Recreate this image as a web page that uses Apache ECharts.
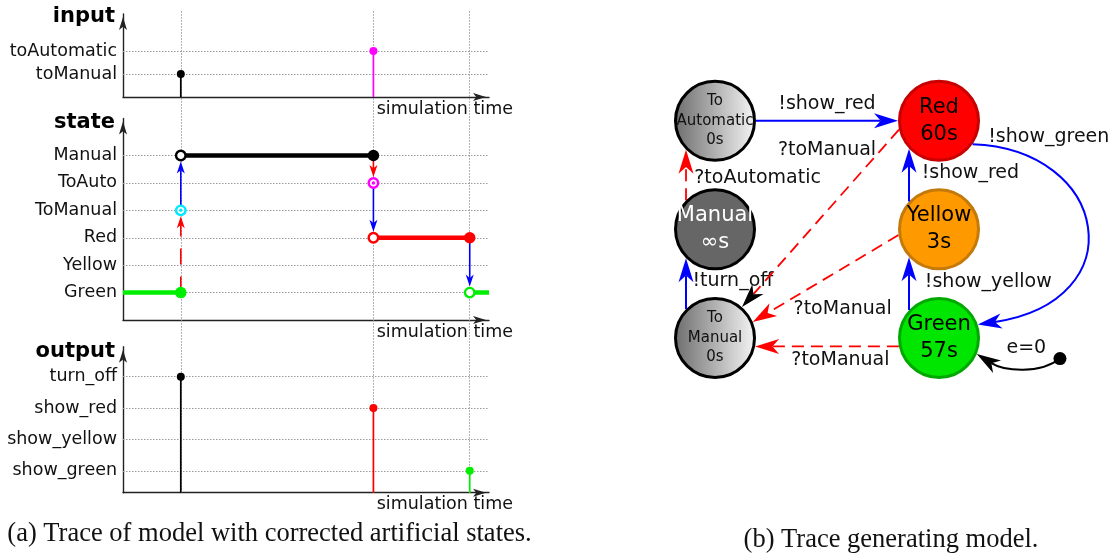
<!DOCTYPE html>
<html>
<head>
<meta charset="utf-8">
<title>Trace and trace generating model</title>
<script src="https://cdn.jsdelivr.net/npm/echarts@6.0.0/dist/echarts.min.js"></script>
<style>
  html, body { margin: 0; padding: 0; background: #fff; }
  #chart { width: 1117px; height: 560px; }
</style>
</head>
<body>
<div id="chart"></div>
<script>
// ---------- (a) trace, x = simulation time ----------
const timeMax = 19
const eventTimes = [3, 13, 18]

const inputLevels = ['toManual', 'toAutomatic']
const inputTimes = [3, 13]
const inputValues = ['toManual', 'toAutomatic']

const stateLevels = ['Green', 'Yellow', 'Red', 'ToManual', 'ToAuto', 'Manual']
const segState = ['Green', 'Manual', 'Red', 'Green']
const segStart = [0, 3, 13, 18]
const segEnd = [3, 13, 18, 19]
const transTime = [3, 3, 13, 13, 18]
const transFrom = ['Green', 'ToManual', 'Manual', 'ToAuto', 'Red']
const transTo = ['ToManual', 'Manual', 'ToAuto', 'Red', 'Green']
const transEvent = ['?toManual', '!turn_off', '?toAutomatic', '!show_red', '!show_green']

const outputLevels = ['show_green', 'show_yellow', 'show_red', 'turn_off']
const outputTimes = [3, 13, 18]
const outputValues = ['turn_off', 'show_red', 'show_green']

// ---------- (b) state machine, layout in columns / rows ----------
const nodeNames = ['ToAutomatic', 'Red', 'Manual', 'Yellow', 'ToManual', 'Green']
const nodeText = ['To\nAutomatic\n0s', 'Red\n60s', 'Manual\n∞s', 'Yellow\n3s', 'To\nManual\n0s', 'Green\n57s']
const nodeCol = [0, 1, 0, 1, 0, 1]
const nodeRow = [0, 0, 1, 1, 2, 2]
const initCol = [1.54]
const initRow = [2.19]

const edgeFrom = ['ToAutomatic', 'Red', 'Yellow', 'Green', 'Manual', 'ToManual', 'Red', 'Yellow', 'Green', 'init']
const edgeTo = ['Red', 'Green', 'Red', 'Yellow', 'ToAutomatic', 'Manual', 'ToManual', 'ToManual', 'ToManual', 'Green']
const edgeLabel = ['!show_red', '!show_green', '!show_red', '!show_yellow', '?toAutomatic', '!turn_off', '?toManual', '?toManual', '?toManual', 'e=0']
const edgeLabelCol = [0.5, 1.49, 1.14, 1.22, 0.19, 0.08, 0.5, 0.57, 0.56, 1.39]
const edgeLabelRow = [-0.155, 0.15, 0.48, 1.49, 0.53, 1.48, 0.27, 1.73, 2.2, 2.09]

// ---------- styles ----------
const FONT = 'DejaVu Sans'
const GRID_L = 123, GRID_R = 1117 - 489
const colorOf = {
  toManual: '#000', toAutomatic: '#ff00ff',
  Green: '#00ee00', Yellow: '#ffa500', Red: '#ff0000', ToManual: '#00e8ff', ToAuto: '#ff00ff', Manual: '#000',
  show_green: '#00ee00', show_yellow: '#ffa500', show_red: '#ff0000', turn_off: '#000'
}
const axisLineStyle = { color: '#222', width: 1.4 }
const dotted = { color: '#9a9a9a', type: [1.5, 1.5], width: 1 }

const panels = [
  { title: 'input', top: 14, bottom: 463, min: 0, max: 3.61, gap: -3, labels: inputLevels },
  { title: 'state', top: 118.5, bottom: 240, min: 0, max: 7.35, gap: -4.5, labels: stateLevels },
  { title: 'output', top: 346.8, bottom: 67.3, min: 0.3, max: 4.955, gap: -5, labels: outputLevels }
]

// ---------- helpers ----------
function arrowParts(start, cp1, cp2, tip, color, headColor, width, dash, L, W) {
  const from = cp2 || start
  let ux = tip[0] - from[0], uy = tip[1] - from[1]
  const len = Math.hypot(ux, uy) || 1
  ux /= len; uy /= len
  const nx = -uy, ny = ux
  const notch = [tip[0] - ux * L * 0.72, tip[1] - uy * L * 0.72]
  const back = [tip[0] - ux * L, tip[1] - uy * L]
  const style = { stroke: color, lineWidth: width, fill: 'none' }
  if (dash) style.lineDash = dash
  const line = cp1
    ? { type: 'bezierCurve', shape: { x1: start[0], y1: start[1], cpx1: cp1[0], cpy1: cp1[1], cpx2: cp2[0], cpy2: cp2[1], x2: notch[0], y2: notch[1] }, style }
    : { type: 'line', shape: { x1: start[0], y1: start[1], x2: notch[0], y2: notch[1] }, style }
  const head = {
    type: 'polygon',
    shape: { points: [tip, [back[0] + nx * W / 2, back[1] + ny * W / 2], notch, [back[0] - nx * W / 2, back[1] - ny * W / 2]] },
    style: { fill: headColor }
  }
  return [line, head]
}
function kindOf(ev) {
  if (ev[0] === '?') return { color: '#ff0000', dash: true, width: 1.8 }
  if (ev[0] === '!') return { color: '#0000ff', dash: false, width: 2 }
  return { color: '#000', dash: false, width: 2 }
}
const stateLvl = s => stateLevels.indexOf(s) + 1

// ---------- grids and axes ----------
const grid = panels.map(p => ({ left: GRID_L, right: GRID_R, top: p.top, bottom: p.bottom }))
grid.push({ left: GRID_L, right: GRID_R, top: 10, bottom: 67.3 })          // vertical event lines
grid.push({ left: 603, right: 10, top: 55.6, bottom: 156.9 })              // state machine

const xAxis = panels.map((p, i) => ({
  type: 'value', gridIndex: i, min: 0, max: timeMax,
  axisLine: { show: true, onZero: false, symbol: ['none', 'arrow'], symbolSize: [6, 13], symbolOffset: [0, -3], lineStyle: axisLineStyle },
  axisTick: { show: false }, axisLabel: { show: false }, splitLine: { show: false },
  name: 'simulation time', nameLocation: 'end', nameGap: 24,
  nameTextStyle: { fontFamily: FONT, fontSize: 17.5, color: '#111', align: 'right', verticalAlign: 'top', padding: [3, 0, 0, 0] }
}))
xAxis.push({ type: 'value', gridIndex: 3, min: 0, max: timeMax, show: false })
xAxis.push({ type: 'value', gridIndex: 4, min: -0.5, max: 1.75, show: false })

const yAxis = panels.map((p, i) => ({
  type: 'value', gridIndex: i, min: p.min, max: p.max,
  axisLine: { show: true, symbol: ['none', 'arrow'], symbolSize: [6, 13], symbolOffset: [0, -3], lineStyle: axisLineStyle },
  axisTick: { show: false }, axisLabel: { show: false }, splitLine: { show: false },
  name: p.title, nameLocation: 'end', nameGap: p.gap,
  nameTextStyle: { fontFamily: FONT, fontSize: 21, fontWeight: 'bold', color: '#000', align: 'right', verticalAlign: 'middle', padding: [0, 8, 0, 0] }
}))
yAxis.push({ type: 'value', gridIndex: 3, min: 0, max: 1, show: false })
yAxis.push({ type: 'value', gridIndex: 4, min: -0.6, max: 2.6, inverse: true, show: false })

const series = []

// horizontal dotted lines + level names
panels.forEach((p, i) => {
  series.push({
    type: 'scatter', xAxisIndex: i, yAxisIndex: i, data: [[0, p.min]], symbolSize: 0, silent: true, z: 1,
    markLine: {
      silent: true, symbol: ['none', 'none'], animation: false, z: 1,
      lineStyle: dotted,
      label: { show: true, position: 'start', distance: 6, formatter: '{b}', fontFamily: FONT, fontSize: 17.5, color: '#111' },
      emphasis: { disabled: true },
      data: p.labels.map((n, k) => ({ yAxis: k + 1, name: n }))
    }
  })
})
// vertical dotted lines at event times
series.push({
  type: 'scatter', xAxisIndex: 3, yAxisIndex: 3, data: [[0, 0]], symbolSize: 0, silent: true, z: 1,
  markLine: {
    silent: true, symbol: ['none', 'none'], animation: false, z: 1, lineStyle: dotted,
    label: { show: false }, emphasis: { disabled: true },
    data: eventTimes.map(t => ({ xAxis: t }))
  }
})

// stems (input / output): a line from the time axis up to the value, with a dot
function stems(times, values, levels, axisIdx, base) {
  const dots = []
  times.forEach((t, k) => {
    const lvl = levels.indexOf(values[k]) + 1
    series.push({
      type: 'line', xAxisIndex: axisIdx, yAxisIndex: axisIdx, z: 3, silent: true, symbol: 'none',
      lineStyle: { color: colorOf[values[k]], width: 1.7 },
      data: [[t, base], [t, lvl]]
    })
    dots.push({ value: [t, lvl], itemStyle: { color: colorOf[values[k]] } })
  })
  series.push({
    type: 'scatter', xAxisIndex: axisIdx, yAxisIndex: axisIdx, z: 4, silent: true,
    symbol: 'circle', symbolSize: 8, itemStyle: { opacity: 1 }, data: dots
  })
}
stems(inputTimes, inputValues, inputLevels, 0, panels[0].min)
stems(outputTimes, outputValues, outputLevels, 2, panels[2].min)

// state segments
segState.forEach((s, k) => {
  series.push({
    type: 'line', xAxisIndex: 1, yAxisIndex: 1, z: 3, silent: true, symbol: 'none',
    lineStyle: { color: colorOf[s], width: 4.5 },
    data: [[segStart[k], stateLvl(s)], [segEnd[k], stateLvl(s)]]
  })
})

// state transitions
series.push({
  type: 'custom', xAxisIndex: 1, yAxisIndex: 1, z: 4, silent: true,
  encode: { x: 0, y: [1, 2] },
  data: transTime.map((t, k) => [t, stateLvl(transFrom[k]), stateLvl(transTo[k])]),
  renderItem(params, api) {
    const k = params.dataIndex
    const p0 = api.coord([api.value(0), api.value(1)])
    const p1 = api.coord([api.value(0), api.value(2)])
    const sgn = p1[1] > p0[1] ? 1 : -1
    const tip = [p1[0], p1[1] - sgn * 6]
    const kind = kindOf(transEvent[k])
    return { type: 'group', children: arrowParts(p0, null, null, tip, kind.color, kind.color, 1.6, kind.dash ? [16, 12] : null, 12, 8) }
  }
})

// state markers: filled (segment end), open (segment start), rings (transient states)
const filledPts = [], openPts = [], ringPts = []
segState.forEach((s, k) => {
  if (segEnd[k] < timeMax) filledPts.push({ value: [segEnd[k], stateLvl(s)], itemStyle: { color: colorOf[s] } })
  if (segStart[k] > 0) openPts.push({ value: [segStart[k], stateLvl(s)], itemStyle: { color: '#fff', borderColor: colorOf[s] } })
})
transTo.forEach((s, k) => {
  const isSeg = segState.some((q, j) => q === s && segStart[j] === transTime[k])
  if (!isSeg) ringPts.push({ value: [transTime[k], stateLvl(s)], itemStyle: { color: '#fff', borderColor: colorOf[s] } })
})
series.push({ type: 'scatter', xAxisIndex: 1, yAxisIndex: 1, z: 5, silent: true, symbolSize: 11.5, itemStyle: { opacity: 1 }, data: filledPts })
series.push({ type: 'scatter', xAxisIndex: 1, yAxisIndex: 1, z: 5, silent: true, symbolSize: 9.5, itemStyle: { borderWidth: 2.4, opacity: 1 }, data: openPts.concat(ringPts) })
series.push({
  type: 'scatter', xAxisIndex: 1, yAxisIndex: 1, z: 6, silent: true, symbolSize: 3.5, itemStyle: { opacity: 1 },
  data: ringPts.map(d => ({ value: d.value, itemStyle: { color: d.itemStyle.borderColor } }))
})

// ---------- state machine ----------
const greyGrad = { type: 'linear', x: 0, y: 0, x2: 1, y2: 0, colorStops: [{ offset: 0, color: '#6c6c6c' }, { offset: 1, color: '#f6f6f6' }] }
const nodeStyle = {
  ToAutomatic: { fill: greyGrad, border: '#000', text: '#111', size: 15, lh: 19.5 },
  Red: { fill: '#ff0000', border: '#c80000', text: '#000', size: 21, lh: 27 },
  Manual: { fill: '#666666', border: '#000', text: '#fff', size: 21, lh: 27 },
  Yellow: { fill: '#ff9900', border: '#c47a0a', text: '#000', size: 21, lh: 27 },
  ToManual: { fill: greyGrad, border: '#000', text: '#111', size: 15, lh: 19.5 },
  Green: { fill: '#00e600', border: '#00a800', text: '#000', size: 21, lh: 27 }
}
const NODE_R = 41
const edgeGeom = [
  { a0: 0, a1: 180 },
  { a0: 35, a1: -19, c1: [137, 5], c2: [158, -24] },
  { a0: -137, a1: 137 },
  { a0: -137, a1: 137 },
  { a0: -135, a1: 135 },
  { a0: -135, a1: 135 },
  { a0: 167.6, a1: -48.8, head: '#000' },
  { a0: 172, a1: -23 },
  { a0: 168, a1: 12 },
  { a0: null, a1: 23, c1: [-20, 16], c2: [27, 17] }
]
const posOf = name => {
  if (name === 'init') return [initCol[0], initRow[0]]
  const i = nodeNames.indexOf(name)
  return [nodeCol[i], nodeRow[i]]
}
const onCircle = (c, deg) => [c[0] + NODE_R * Math.cos(deg * Math.PI / 180), c[1] + NODE_R * Math.sin(deg * Math.PI / 180)]

series.push({
  type: 'custom', xAxisIndex: 4, yAxisIndex: 4, z: 8, silent: true,
  encode: { x: [0, 2], y: [1, 3] },
  data: edgeFrom.map((f, k) => posOf(f).concat(posOf(edgeTo[k]))),
  renderItem(params, api) {
    const k = params.dataIndex
    const g = edgeGeom[k]
    const c0 = api.coord([api.value(0), api.value(1)])
    const c1 = api.coord([api.value(2), api.value(3)])
    const start = g.a0 === null ? c0 : onCircle(c0, g.a0)
    const tip = onCircle(c1, g.a1)
    const cp1 = g.c1 ? [start[0] + g.c1[0], start[1] + g.c1[1]] : null
    const cp2 = g.c2 ? [tip[0] + g.c2[0], tip[1] + g.c2[1]] : null
    const kind = kindOf(edgeLabel[k])
    const children = arrowParts(start, cp1, cp2, tip, kind.color, g.head || kind.color, kind.width, kind.dash ? [12, 7] : null, 24, 15)
    if (g.a0 === null) children.push({ type: 'circle', shape: { cx: c0[0], cy: c0[1], r: 6.5 }, style: { fill: '#000' } })
    const lp = api.coord([edgeLabelCol[k], edgeLabelRow[k]])
    children.push({
      type: 'text', x: lp[0], y: lp[1],
      style: { text: edgeLabel[k], fill: '#111', font: '19px "DejaVu Sans"', align: 'center', verticalAlign: 'middle' }
    })
    return { type: 'group', children }
  }
})

series.push({
  type: 'scatter', xAxisIndex: 4, yAxisIndex: 4, z: 6, silent: true, symbolSize: 79,
  data: nodeNames.map((n, i) => {
    const st = nodeStyle[n]
    return {
      name: n, value: [nodeCol[i], nodeRow[i]],
      itemStyle: { color: st.fill, borderColor: st.border, borderWidth: 3, opacity: 1 },
      label: {
        show: true, position: 'inside', formatter: nodeText[i],
        fontFamily: FONT, fontSize: st.size, lineHeight: st.lh, color: st.text
      }
    }
  })
})

const option = {
  animation: false,
  backgroundColor: '#fff',
  grid, xAxis, yAxis, series,
  graphic: [
    { type: 'text', x: 269.5, y: 534, style: { text: '(a) Trace of model with corrected artificial states.', font: '26.5px "Liberation Serif"', fill: '#111', align: 'center', verticalAlign: 'middle' } },
    { type: 'text', x: 891, y: 540, style: { text: '(b) Trace generating model.', font: '26.5px "Liberation Serif"', fill: '#111', align: 'center', verticalAlign: 'middle' } }
  ]
}

const chart = echarts.init(document.getElementById('chart'))
chart.setOption(option)
window.addEventListener('resize', () => chart.resize())
</script>
</body>
</html>
